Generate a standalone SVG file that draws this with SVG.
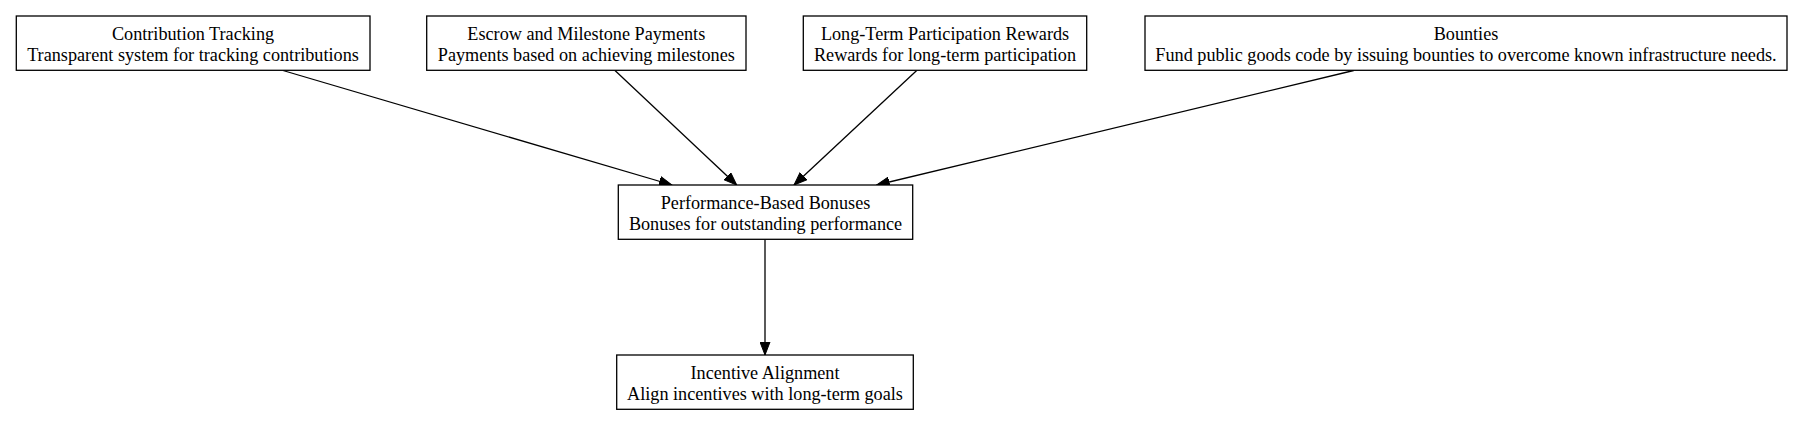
<svg xmlns="http://www.w3.org/2000/svg" width="1804" height="425" viewBox="0 0 1804 425">
<style>
.box{fill:#fff;stroke:#000;stroke-width:1.3}
.lbl{font-family:"Liberation Serif","Times New Roman",serif;font-size:18.2px;fill:#000;text-anchor:middle}
.edge{fill:none;stroke:#000;stroke-width:1.3;marker-end:url(#arr)}
</style>
<defs>
<marker id="arr" markerUnits="userSpaceOnUse" markerWidth="14" markerHeight="11" refX="13" refY="5" orient="auto" viewBox="0 0 14 10">
<polygon points="0,0 13,5 0,10" fill="#000" stroke="#000" stroke-width="1"/>
</marker>
</defs>
<rect width="1804" height="425" fill="#fff"/>
<g id="edges">
<path class="edge" d="M283,70.5 L672,185"/>
<path class="edge" d="M615,70.5 L736.7,185"/>
<path class="edge" d="M916.7,70.5 L794,185"/>
<path class="edge" d="M1353.7,70.5 L876.7,185"/>
<path class="edge" d="M765,239.5 L765,355"/>
</g>
<g id="contribution">
<rect class="box" x="16.3" y="16" width="353.7" height="54.3"/>
<text class="lbl" x="193" y="39.5">Contribution Tracking</text>
<text class="lbl" x="193" y="61.3">Transparent system for tracking contributions</text>
</g>
<g id="escrow">
<rect class="box" x="426.7" y="16" width="319.3" height="54.3"/>
<text class="lbl" x="586.3" y="39.5">Escrow and Milestone Payments</text>
<text class="lbl" x="586.3" y="61.3">Payments based on achieving milestones</text>
</g>
<g id="longterm">
<rect class="box" x="803.3" y="16" width="283.4" height="54.3"/>
<text class="lbl" x="945" y="39.5">Long-Term Participation Rewards</text>
<text class="lbl" x="945" y="61.3">Rewards for long-term participation</text>
</g>
<g id="bounties">
<rect class="box" x="1145" y="16" width="642" height="54.3"/>
<text class="lbl" x="1466" y="39.5">Bounties</text>
<text class="lbl" x="1466" y="61.3">Fund public goods code by issuing bounties to overcome known infrastructure needs.</text>
</g>
<g id="performance">
<rect class="box" x="618.3" y="185" width="294.4" height="54.3"/>
<text class="lbl" x="765.5" y="208.5">Performance-Based Bonuses</text>
<text class="lbl" x="765.5" y="230.3">Bonuses for outstanding performance</text>
</g>
<g id="incentive">
<rect class="box" x="616.7" y="355" width="296.6" height="54.3"/>
<text class="lbl" x="765" y="378.5">Incentive Alignment</text>
<text class="lbl" x="765" y="400.3">Align incentives with long-term goals</text>
</g>
</svg>
